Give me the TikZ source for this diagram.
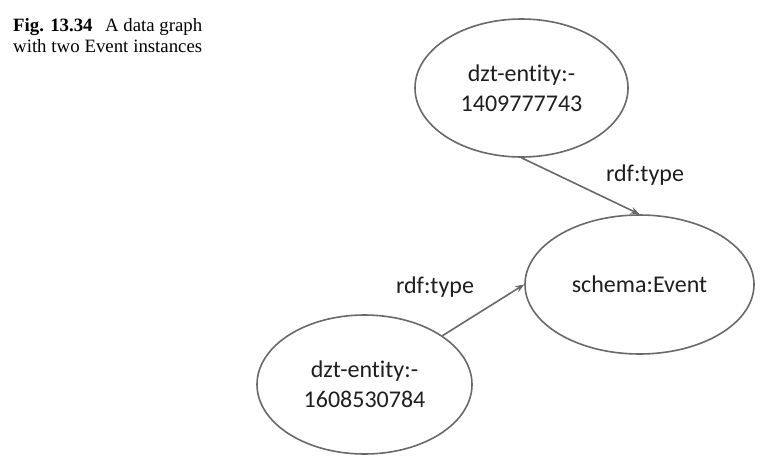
\documentclass[tikz,border=0pt]{standalone}
\usepackage{fontspec}
\setmainfont{Liberation Serif}
\newfontfamily\nodefont[Ligatures=NoCommon]{Carlito}
\usetikzlibrary{shapes.geometric,arrows.meta}
\definecolor{linegray}{RGB}{105,105,105}
\definecolor{textdark}{RGB}{30,30,30}
\begin{document}
\begin{tikzpicture}[x=1pt,y=-1pt,
  entity/.style={ellipse,draw=linegray,line width=1.6pt,inner sep=0pt,
    font=\nodefont\fontsize{24}{29.5}\selectfont,text=textdark,align=center},
  edgelabel/.style={font=\nodefont\fontsize{24}{29.5}\selectfont,text=textdark,inner sep=0pt},
  link/.style={draw=linegray,line width=1.6pt,-{Stealth[length=9pt,width=7pt]}},
  captext/.style={anchor=base west,inner sep=0pt,font=\fontsize{18.8}{21}\selectfont,text=black}]
\useasboundingbox (0,0) rectangle (769,469);
\node[captext] (cap1) at (13,31.7) {\makebox[189pt][s]{\textbf{Fig. 13.34}\hfill A data graph}};
\node[captext] (cap2) at (13,52.7) {\makebox[189pt][s]{with two Event instances}};
\node[entity,minimum width=213pt,minimum height=138pt] (e1) at (521.5,88) {dzt-entity:-\\1409777743};
\node[entity,minimum width=229pt,minimum height=139pt] (ev) at (639.5,284.5) {schema:Event};
\node[entity,minimum width=215pt,minimum height=139pt] (e2) at (364.5,384.5) {dzt-entity:-\\1608530784};
\draw[link] (e1.south) -- (ev.north);
\draw[link] (e2) -- (ev.west);
\node[edgelabel] (l1) at (645,175) {rdf:type};
\node[edgelabel] (l2) at (435,287) {rdf:type};
\end{tikzpicture}
\end{document}
